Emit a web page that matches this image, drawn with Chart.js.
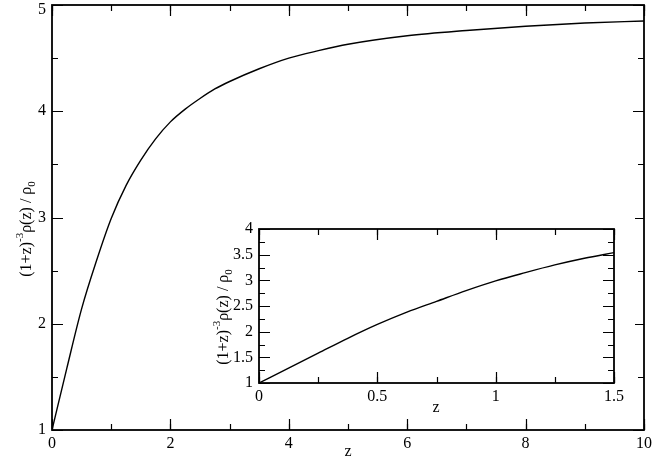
<!DOCTYPE html>
<html>
<head>
<meta charset="utf-8">
<script src="https://cdn.jsdelivr.net/npm/chart.js@4.4.0/dist/chart.umd.min.js"></script>
<style>
  html, body { margin: 0; padding: 0; background: #fff; }
  #wrap { position: relative; width: 654px; height: 462px; }
  #main { position: absolute; left: 0; top: 0; }
  #inset { position: absolute; left: 195px; top: 215px; background: #fff; }
</style>
</head>
<body>
<div id="wrap">
  <canvas id="main" width="654" height="462"></canvas>
  <canvas id="inset" width="440" height="200"></canvas>
</div>
<script>
'use strict';

/* ── Data ── */
const mainZ   = [0, 0.25, 0.5, 0.75, 1, 1.25, 1.5, 1.75, 2, 2.25, 2.5, 2.75, 3, 3.5, 4, 4.5, 5, 6, 7, 8, 9, 10];
const mainRho = [1, 1.58, 2.14, 2.59, 2.99, 3.30, 3.54, 3.74, 3.90, 4.02, 4.12, 4.21, 4.28, 4.40, 4.50, 4.57, 4.63, 4.71, 4.76, 4.80, 4.83, 4.85];

const insetZ   = [0, 0.125, 0.25, 0.375, 0.5, 0.625, 0.75, 0.875, 1, 1.125, 1.25, 1.375, 1.5];
const insetRho = [1, 1.29, 1.58, 1.87, 2.14, 2.38, 2.59, 2.80, 2.99, 3.15, 3.30, 3.43, 3.54];

const mainXTicks  = [0, 2, 4, 6, 8, 10];
const mainYTicks  = [1, 2, 3, 4, 5];
const insetXTicks = [0, 0.5, 1, 1.5];
const insetYTicks = [1, 1.5, 2, 2.5, 3, 3.5, 4];

const FONT = '"Liberation Serif", "DejaVu Serif", serif';
const YTITLE = [
  { t: '(1+z)' },
  { t: '-3', sup: true },
  { t: '\u03C1(z) / \u03C1' },
  { t: '0', sub: true }
];

/* ── Inward ticks on all four sides + frame ── */
const frameTicks = {
  id: 'frameTicks',
  afterDraw(chart, args, o) {
    const { ctx, chartArea: a, scales: { x, y } } = chart;
    ctx.save();
    ctx.strokeStyle = '#000';
    ctx.lineWidth = 1.2;
    const xMarks = (step, len) => {
      for (let v = x.min; v <= x.max + 1e-9; v += step) {
        const p = Math.round(x.getPixelForValue(v)) + 0.5;
        ctx.beginPath();
        ctx.moveTo(p, a.bottom); ctx.lineTo(p, a.bottom - len);
        ctx.moveTo(p, a.top);    ctx.lineTo(p, a.top + len);
        ctx.stroke();
      }
    };
    const yMarks = (step, len) => {
      for (let v = y.min; v <= y.max + 1e-9; v += step) {
        const p = Math.round(y.getPixelForValue(v)) + 0.5;
        ctx.beginPath();
        ctx.moveTo(a.left, p);  ctx.lineTo(a.left + len, p);
        ctx.moveTo(a.right, p); ctx.lineTo(a.right - len, p);
        ctx.stroke();
      }
    };
    xMarks(o.xMinor, 6); xMarks(o.xMajor, 11);
    yMarks(o.yMinor, 6); yMarks(o.yMajor, 11);
    ctx.lineWidth = 1.8;
    ctx.strokeRect(a.left, a.top, a.right - a.left, a.bottom - a.top);
    ctx.restore();
  }
};

/* ── Axis titles with super/subscripts ── */
const axisTitles = {
  id: 'axisTitles',
  afterDraw(chart, args, o) {
    const ctx = chart.ctx;
    const s = o.size;
    ctx.save();
    ctx.fillStyle = '#000';
    ctx.textBaseline = 'alphabetic';
    // x title
    ctx.font = `${s}px ${FONT}`;
    ctx.textAlign = 'center';
    ctx.fillText('z', o.xTitle[0], o.xTitle[1]);
    // y title, rotated
    const small = Math.round(s * 0.7);
    const widths = YTITLE.map(p => {
      ctx.font = `${p.sup || p.sub ? small : s}px ${FONT}`;
      return ctx.measureText(p.t).width;
    });
    const total = widths.reduce((a, b) => a + b, 0);
    ctx.translate(o.yTitle[0], o.yTitle[1]);
    ctx.rotate(-Math.PI / 2);
    ctx.textAlign = 'left';
    let cx = -total / 2;
    YTITLE.forEach((p, i) => {
      ctx.font = `${p.sup || p.sub ? small : s}px ${FONT}`;
      const dy = p.sup ? -s * 0.45 : p.sub ? s * 0.25 : 0;
      ctx.fillText(p.t, cx, s * 0.35 + dy);
      cx += widths[i];
    });
    ctx.restore();
  }
};

function makeChart(id, xs, ys, cfg) {
  // the top y label sits flush with the canvas edge, so nudge it down a little
  const nudge = v => cfg.nudgeTop && v === cfg.yMax;
  return new Chart(document.getElementById(id), {
    type: 'line',
    data: {
      datasets: [{
        data: xs.map((z, i) => ({ x: z, y: ys[i] })),
        borderColor: '#000',
        borderWidth: 1.4,
        pointRadius: 0,
        cubicInterpolationMode: 'monotone',
        fill: false
      }]
    },
    options: {
      responsive: false,
      animation: false,
      layout: { padding: cfg.padding },
      plugins: {
        legend: { display: false },
        tooltip: { enabled: false },
        frameTicks: cfg.marks,
        axisTitles: cfg.titles
      },
      scales: {
        x: {
          type: 'linear', min: cfg.xMin, max: cfg.xMax,
          grid: { display: false, drawTicks: false, tickLength: 0 },
          border: { display: false },
          afterBuildTicks: s => { s.ticks = cfg.xTicks.map(v => ({ value: v })); },
          afterFit: s => { s.height = cfg.xHeight; s.paddingLeft = 0; s.paddingRight = 0; },
          ticks: { color: '#000', padding: cfg.xPad, maxRotation: 0,
                   callback: v => String(v), font: { family: FONT, size: cfg.font } }
        },
        y: {
          type: 'linear', min: cfg.yMin, max: cfg.yMax,
          grid: { display: false, drawTicks: false, tickLength: 0 },
          border: { display: false },
          afterBuildTicks: s => { s.ticks = cfg.yTicks.map(v => ({ value: v })); },
          afterFit: s => { s.width = cfg.yWidth; s.paddingTop = 0; s.paddingBottom = 0; },
          ticks: {
            color: '#000', padding: 6,
            callback: v => nudge(v) ? ['', String(v)] : String(v),
            font: c => ({ family: FONT, size: cfg.font,
                          lineHeight: c.tick && nudge(c.tick.value) ? 0.6 : 1.2 })
          }
        }
      }
    },
    plugins: [frameTicks, axisTitles]
  });
}

/* ── Main chart ── */
makeChart('main', mainZ, mainRho, {
  xMin: 0, xMax: 10, yMin: 1, yMax: 5, nudgeTop: true,
  xTicks: mainXTicks, yTicks: mainYTicks,
  padding: { top: 5, right: 10, left: 0, bottom: 0 },
  xHeight: 32, yWidth: 52, xPad: 4, font: 16,
  marks: { xMajor: 2, xMinor: 1, yMajor: 1, yMinor: 0.5 },
  titles: { size: 16, xTitle: [348, 456], yTitle: [25, 229] }
});

/* ── Inset ── */
makeChart('inset', insetZ, insetRho, {
  xMin: 0, xMax: 1.5, yMin: 1, yMax: 4,
  xTicks: insetXTicks, yTicks: insetYTicks,
  padding: { top: 14, right: 21, left: 0, bottom: 0 },
  xHeight: 32, yWidth: 64, xPad: 4, font: 16,
  marks: { xMajor: 0.5, xMinor: 0.25, yMajor: 0.5, yMinor: 0.25 },
  titles: { size: 16, xTitle: [241, 197], yTitle: [27, 102] }
});
</script>
</body>
</html>
